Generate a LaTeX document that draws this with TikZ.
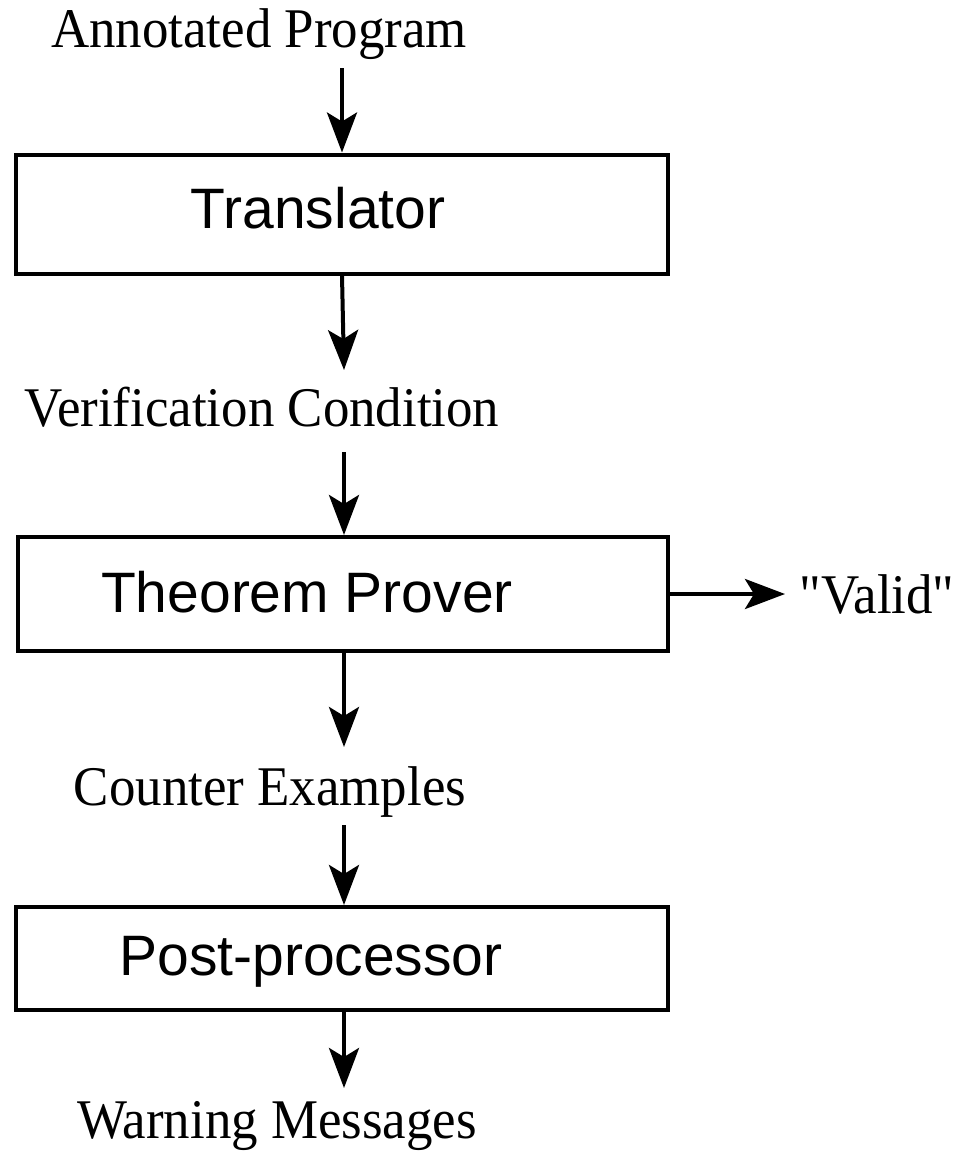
\documentclass[tikz,border=0pt]{standalone}
\usepackage{fontspec}
\setmainfont{Liberation Serif}[Ligatures=TeXOff, FakeStretch=0.945]
\newfontfamily\boxfont{Liberation Sans}
\usetikzlibrary{arrows.meta}
\tikzset{
  x=1pt, y=-1pt,
  box/.style={draw, line width=4pt, inner sep=0pt, rectangle},
  boxtext/.style={anchor=base, inner sep=0pt, font=\boxfont\fontsize{57}{62}\selectfont},
  flowtext/.style={anchor=base, inner sep=0pt, font=\fontsize{56}{60}\selectfont},
  arr/.style={line width=4pt, -{Stealth[length=40pt, width=30pt, inset=9pt]}},
}
\begin{document}
\begin{tikzpicture}
\useasboundingbox (0,0) rectangle (960,1152);

% processing stages
\node[box, minimum width=652pt, minimum height=119pt] (b1) at (342,214) {};
\node[box, minimum width=650pt, minimum height=114pt] (b2) at (343,594) {};
\node[box, minimum width=652pt, minimum height=103pt] (b3) at (342,958.5) {};

\node[boxtext] (t1) at (318,228) {Translator};
\node[boxtext] (t2) at (307,612) {Theorem Prover};
\node[boxtext] (t3) at (311,975) {Post-processor};

% data flowing between stages
\node[flowtext] (ap) at (259,47) {Annotated Program};
\node[flowtext] (vc) at (262,426) {Verification Condition};
\node[flowtext] (ce) at (270,805) {Counter Examples};
\node[flowtext] (wm) at (277,1138) {Warning Messages};
\node[flowtext] (va) at (877,613) {"Valid"};

% connector end points
\coordinate (a1s) at (342,68);
\coordinate (a2e) at (344,370);
\coordinate (a3s) at (344,452);
\coordinate (a4e) at (344,747);
\coordinate (a5s) at (344,825);
\coordinate (a6e) at (344,1088);
\coordinate (a7e) at (785,594);

\draw[arr] (a1s) -- (b1.north -| a1s);
\draw[arr] (b1.south) -- (a2e);
\draw[arr] (a3s) -- (b2.north -| a3s);
\draw[arr] (b2.south -| a4e) -- (a4e);
\draw[arr] (a5s) -- (b3.north -| a5s);
\draw[arr] (b3.south -| a6e) -- (a6e);
\draw[arr] (b2.east) -- (a7e);
\end{tikzpicture}
\end{document}
